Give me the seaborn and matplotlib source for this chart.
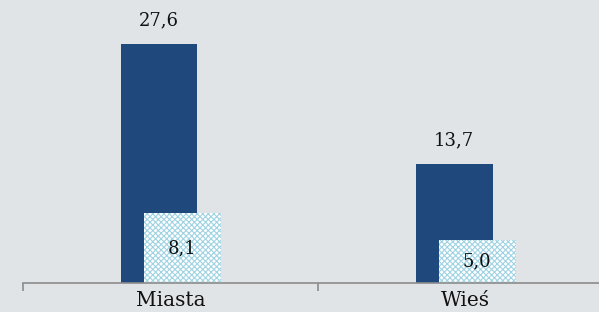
import matplotlib
matplotlib.use("Agg")
import matplotlib.pyplot as plt
import seaborn as sns
import pandas as pd

# data
categories = ["Miasta", "Wieś"]
total_vals = [27.6, 13.7]
sub_vals = [8.1, 5.0]
total_labels = ["27,6", "13,7"]
sub_labels = ["8,1", "5,0"]

bg = "#E1E4E7"
blue = "#1F497D"
dot_col = "#9FD3E3"

sns.set_theme(style="white")
plt.rcParams["font.family"] = ["DejaVu Serif"]
plt.rcParams["hatch.linewidth"] = 0.8

fig = plt.figure(figsize=(5.99, 3.12), dpi=100)
fig.patch.set_facecolor(bg)
ax = fig.add_axes([0.0384, 0.093, 0.985, 0.907])
ax.set_facecolor(bg)

df_total = pd.DataFrame({"cat": categories, "val": total_vals})
df_sub = pd.DataFrame({"cat": categories, "val": sub_vals})

bw = 0.261
shift = 0.039

sns.barplot(data=df_total, x="cat", y="val", color=blue, width=bw,
            saturation=1, ax=ax, order=categories)
n_total = len(ax.patches)
for p in ax.patches:
    p.set_x(p.get_x() - shift)
    p.set_edgecolor("none")

sns.barplot(data=df_sub, x="cat", y="val", color="white", width=bw,
            saturation=1, ax=ax, order=categories)
for p in ax.patches[n_total:]:
    p.set_x(p.get_x() + shift)
    p.set_facecolor("white")
    p.set_edgecolor(dot_col)
    p.set_linewidth(0)
    p.set_hatch("xxxxxx")

# value labels
for i, (v, lab) in enumerate(zip(total_vals, total_labels)):
    ax.text(i - shift, v + 2.8, lab, ha="center", va="center", fontsize=13, color="#111111")
for i, (v, lab) in enumerate(zip(sub_vals, sub_labels)):
    ax.text(i + shift, v / 2, lab, ha="center", va="center", fontsize=13, color="#111111")

ax.set_xlim(-0.5, 1.5)
ax.set_ylim(0, 32.7)
ax.set_yticks([])
ax.set_xlabel("")
ax.set_ylabel("")
for s in ["top", "right", "left"]:
    ax.spines[s].set_visible(False)
ax.spines["bottom"].set_color("#8C8C8C")
ax.spines["bottom"].set_linewidth(1.2)

ax.set_xticks([0, 1])
ax.set_xticklabels(categories, fontsize=14.5, color="#111111")
ax.set_xticks([-0.5, 0.5, 1.5], minor=True)
ax.tick_params(axis="x", which="both", bottom=True)
ax.tick_params(axis="x", which="major", length=0, pad=6)
ax.tick_params(axis="x", which="minor", length=6, width=1.2, color="#8C8C8C", direction="out")

fig.savefig("out.png", dpi=100, facecolor=bg)
